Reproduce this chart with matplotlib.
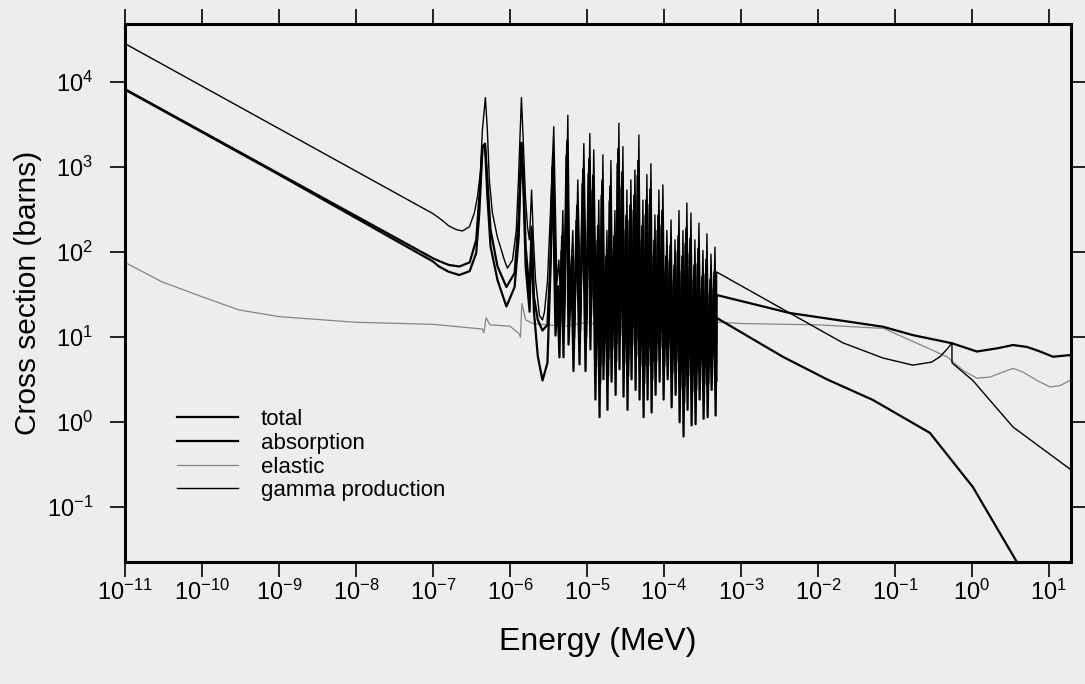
"""Neutron cross sections vs energy: total, absorption, elastic and gamma production."""
import matplotlib.pyplot as plt
from matplotlib.ticker import FixedLocator, NullLocator, LogFormatterSciNotation

plt.rcParams["font.family"] = ["Liberation Sans", "DejaVu Sans"]
plt.rcParams["mathtext.fontset"] = "custom"
plt.rcParams["mathtext.rm"] = "Liberation Sans"
plt.rcParams["mathtext.it"] = "Liberation Sans:italic"
plt.rcParams["mathtext.bf"] = "Liberation Sans:bold"
plt.rcParams["axes.unicode_minus"] = False

BG = "#ededed"

x_ticks = [1e-11, 1e-10, 1e-9, 1e-8, 1e-7, 1e-6, 1e-5, 1e-4, 1e-3, 1e-2, 1e-1, 1e0, 1e1]
y_ticks = [1e-1, 1e0, 1e1, 1e2, 1e3, 1e4]

# ---- thermal / first resonances (energies in MeV, cross sections in barns)
gamma_lo_E = [1e-11, 1e-9, 1e-7, 1.3e-7, 1.6e-7, 2.0e-7, 2.41e-7, 2.97e-7, 3.45e-7, 3.78e-7, 4.13e-7,
              4.39e-7, 4.80e-7, 5.09e-7, 5.40e-7, 5.92e-7, 6.87e-7, 8.47e-7, 9.27e-7,
              1.08e-6, 1.21e-6, 1.29e-6, 1.41e-6, 1.50e-6, 1.59e-6, 1.69e-6, 1.79e-6,
              1.85e-6, 1.91e-6, 2.02e-6, 2.15e-6, 2.42e-6, 2.65e-6, 2.81e-6, 3.07e-6, 3.36e-6]
gamma_lo = [2.85e4, 2850, 285, 240, 205, 185, 178, 199, 290, 448, 857,
            2750, 6600, 2750, 710, 290, 151, 81, 65,
            81, 183, 710, 6600, 1730, 448, 199, 140,
            270, 540, 140, 47, 18, 16, 20, 45, 300]

tot_lo_E = [1e-11, 1e-9, 1e-7, 1.2e-7, 1.6e-7, 2.2e-7, 3.0e-7, 3.65e-7, 4.0e-7, 4.4e-7, 4.75e-7,
            5.1e-7, 5.6e-7, 6.9e-7, 9.0e-7, 1.15e-6, 1.3e-6, 1.41e-6, 1.5e-6, 1.6e-6,
            1.8e-6, 1.91e-6, 2.05e-6, 2.3e-6, 2.65e-6, 3.07e-6, 3.36e-6]
total_lo = [8.3e3, 840, 85, 79, 71, 68, 76, 140, 448, 1750, 1900,
            710, 183, 68, 39, 57, 250, 1950, 710, 117,
            33, 200, 30, 16, 12, 14, 80]
absorption_lo = [8.2e3, 820, 78, 68, 59, 54, 60, 98, 290, 1730, 1800,
                 448, 117, 47, 23, 39, 150, 1900, 540, 68,
                 20, 150, 20, 6, 3.1, 5, 60]

# ---- dense resonance region (alternating peaks / valleys)
res_E = [3.57e-6, 3.91e-6, 4.15e-6, 4.40e-6, 4.67e-6, 4.96e-6, 5.43e-6, 5.77e-6, 6.31e-6, 6.69e-6,
         7.32e-6, 8.02e-6, 8.77e-6, 9.59e-6, 1.05e-5, 1.11e-5, 1.18e-5, 1.29e-5, 1.37e-5, 1.46e-5,
         1.55e-5, 1.64e-5, 1.75e-5, 1.85e-5, 1.97e-5, 2.09e-5, 2.22e-5, 2.36e-5, 2.50e-5, 2.65e-5,
         2.82e-5, 2.99e-5, 3.18e-5, 3.37e-5, 3.58e-5, 3.80e-5, 4.04e-5, 4.29e-5, 4.55e-5, 4.83e-5,
         5.13e-5, 5.45e-5, 5.78e-5, 6.14e-5, 6.52e-5, 6.92e-5, 7.35e-5, 7.80e-5, 8.28e-5, 8.79e-5,
         9.33e-5, 9.91e-5, 1.05e-4, 1.12e-4, 1.19e-4, 1.26e-4, 1.34e-4, 1.42e-4, 1.51e-4, 1.60e-4,
         1.70e-4, 1.80e-4, 1.91e-4, 2.03e-4, 2.16e-4, 2.29e-4, 2.43e-4, 2.58e-4, 2.74e-4, 2.91e-4,
         3.09e-4, 3.28e-4, 3.48e-4, 3.70e-4, 3.93e-4, 4.17e-4, 4.43e-4, 4.70e-4]
res_E_total = [3.64e-6, 3.99e-6, 4.23e-6, 4.49e-6, 4.76e-6, 5.06e-6, 5.54e-6, 5.89e-6, 6.44e-6, 6.82e-6,
               7.47e-6, 8.18e-6, 8.95e-6, 9.78e-6, 1.071e-5, 1.132e-5, 1.204e-5, 1.316e-5, 1.397e-5, 1.489e-5,
               1.581e-5, 1.673e-5, 1.785e-5, 1.887e-5, 2.009e-5, 2.132e-5, 2.264e-5, 2.407e-5, 2.55e-5, 2.703e-5,
               2.876e-5, 3.050e-5, 3.244e-5, 3.437e-5, 3.652e-5, 3.876e-5, 4.121e-5, 4.376e-5, 4.641e-5, 4.927e-5,
               5.233e-5, 5.559e-5, 5.896e-5, 6.263e-5, 6.650e-5, 7.058e-5, 7.497e-5, 7.956e-5, 8.446e-5, 8.966e-5,
               9.517e-5, 1.011e-4, 1.071e-4, 1.142e-4, 1.214e-4, 1.285e-4, 1.367e-4, 1.448e-4, 1.540e-4, 1.632e-4,
               1.734e-4, 1.836e-4, 1.948e-4, 2.071e-4, 2.203e-4, 2.336e-4, 2.479e-4, 2.632e-4, 2.795e-4, 2.968e-4,
               3.152e-4, 3.346e-4, 3.550e-4, 3.774e-4, 4.009e-4, 4.253e-4, 4.519e-4, 4.78e-4]
res_E_gamma = [3.71e-6, 4.07e-6, 4.32e-6, 4.58e-6, 4.86e-6, 5.16e-6, 5.65e-6, 6.00e-6, 6.56e-6, 6.96e-6,
               7.61e-6, 8.34e-6, 9.12e-6, 9.97e-6, 1.092e-5, 1.154e-5, 1.227e-5, 1.342e-5, 1.425e-5, 1.518e-5,
               1.612e-5, 1.706e-5, 1.820e-5, 1.924e-5, 2.049e-5, 2.174e-5, 2.309e-5, 2.454e-5, 2.60e-5, 2.756e-5,
               2.933e-5, 3.110e-5, 3.307e-5, 3.505e-5, 3.723e-5, 3.952e-5, 4.202e-5, 4.462e-5, 4.732e-5, 5.023e-5,
               5.335e-5, 5.668e-5, 6.011e-5, 6.386e-5, 6.781e-5, 7.197e-5, 7.644e-5, 8.112e-5, 8.611e-5, 9.142e-5,
               9.703e-5, 1.031e-4, 1.092e-4, 1.165e-4, 1.238e-4, 1.310e-4, 1.394e-4, 1.477e-4, 1.570e-4, 1.664e-4,
               1.768e-4, 1.872e-4, 1.986e-4, 2.111e-4, 2.246e-4, 2.382e-4, 2.527e-4, 2.683e-4, 2.850e-4, 3.026e-4,
               3.214e-4, 3.411e-4, 3.619e-4, 3.848e-4, 4.087e-4, 4.337e-4, 4.607e-4, 4.82e-4]
gamma_res = [3000, 42, 81, 23, 310, 23, 4100, 33, 180, 16, 710, 19, 1900, 16, 2500, 29, 1600, 7.4,
             410, 4.6, 1400, 13, 180, 5.6, 1200, 12, 310, 8.4, 3300, 17, 1750, 8, 540, 5.6, 710, 13,
             930, 9.6, 2400, 7.4, 410, 4.6, 820, 7.4, 1100, 5.2, 275, 8.4, 540, 12, 620, 7.4, 180, 13,
             240, 6, 140, 8.4, 310, 4, 180, 2.7, 380, 5.6, 290, 3.7, 140, 3.8, 220, 7.4, 105, 4.4,
             165, 4.6, 95, 9.6, 115, 4.8]
total_res = [1500, 26, 40, 14.5, 155, 14.5, 2050, 20, 90, 10, 355, 12, 950, 10, 1250, 18, 800, 4.6,
             205, 2.9, 700, 8, 90, 3.5, 600, 7.5, 155, 5.2, 1650, 10.5, 875, 5, 270, 3.5, 355, 8,
             465, 6, 1200, 4.6, 205, 2.9, 410, 4.6, 550, 3.2, 138, 5.2, 270, 7.5, 310, 4.6, 90, 8,
             120, 3.8, 70, 5.2, 155, 2.5, 90, 1.7, 190, 3.5, 145, 2.3, 70, 2.4, 110, 4.6, 52, 2.8,
             82, 2.9, 48, 6, 58, 3]
absorption_res = [1000, 10.5, 27, 5.8, 103, 5.8, 1370, 8.2, 60, 4.0, 237, 4.8, 633, 4.0, 833, 7.2,
                  533, 1.85, 137, 1.15, 467, 3.2, 60, 1.4, 400, 3.0, 103, 2.1, 1100, 4.2, 583, 2.0,
                  180, 1.4, 237, 3.2, 310, 2.4, 800, 1.85, 137, 1.15, 273, 1.85, 367, 1.3, 92, 2.1,
                  180, 3.0, 207, 1.85, 60, 3.2, 80, 1.5, 47, 2.1, 103, 1.0, 60, 0.68, 127, 1.4,
                  97, 0.92, 47, 0.95, 73, 1.85, 35, 1.1, 55, 1.15, 32, 2.4, 38, 1.2]

# ---- above the resonance region
gamma_hi_E = [4.84e-4, 4.30e-3, 2.11e-2, 0.070, 0.171, 0.30, 0.385, 0.48, 0.551, 0.552,
              1.03, 3.42, 20]
gamma_hi = [58.6, 19.3, 8.6, 5.7, 4.7, 5.1, 5.9, 7.3, 8.6, 5.0, 3.1, 0.88, 0.27]

total_hi_E = [4.84e-4, 4.30e-3, 0.070, 0.171, 0.551, 1.16, 2.12, 3.42, 5.2, 7.7, 11.3, 20]
total_hi = [31.4, 19.3, 13.3, 10.6, 8.5, 6.8, 7.4, 8.1, 7.7, 6.8, 5.9, 6.2]

absorption_hi_E = [4.84e-4, 3.5e-3, 1.31e-2, 5.18e-2, 0.285, 1.03, 3.86, 6.0]
absorption_hi = [16.9, 5.9, 3.2, 1.83, 0.75, 0.173, 0.0225, 0.012]

elastic_E = [1e-11, 3e-11, 1e-10, 3e-10, 1e-9, 1e-8, 1e-7, 4.4e-7, 4.6e-7, 4.9e-7, 5.5e-7,
             1.0e-6, 1.32e-6, 1.37e-6, 1.43e-6, 1.6e-6, 2.0e-6, 3.0e-6, 5e-6, 1e-5, 2e-5,
             5e-5, 1e-4, 2e-4, 4.84e-4, 1e-3, 1e-2, 0.072, 0.474, 0.766, 1.16, 1.72, 2.54,
             3.42, 4.61, 7.0, 10.4, 14.0, 20]
elastic = [76, 45, 30, 21, 17.5, 15, 14.2, 12.5, 11.3, 17, 14,
           13.5, 11, 10, 25, 16, 14.5, 14, 13.5, 15, 13,
           14.5, 13.5, 14.5, 15.1, 14.5, 14.0, 12.7, 5.9, 4.1, 3.3, 3.4, 3.9,
           4.3, 3.9, 3.1, 2.6, 2.7, 3.2]

fig = plt.figure(figsize=(10.85, 6.84), dpi=100)
fig.patch.set_facecolor(BG)
ax = fig.add_axes([0.1152, 0.1784, 0.8719, 0.7865])
ax.set_facecolor(BG)

l_el, = ax.plot(elastic_E, elastic, color="#858585", lw=0.9, zorder=2)
l_gam, = ax.plot(gamma_lo_E + res_E_gamma + gamma_hi_E, gamma_lo + gamma_res + gamma_hi,
                 color="black", lw=1.0, zorder=3)
l_abs, = ax.plot(tot_lo_E + res_E + absorption_hi_E, absorption_lo + absorption_res + absorption_hi,
                 color="black", lw=1.6, zorder=4)
l_tot, = ax.plot(tot_lo_E + res_E_total + total_hi_E, total_lo + total_res + total_hi,
                 color="black", lw=1.6, zorder=5)

ax.set_xscale("log")
ax.set_yscale("log")
ax.set_xlim(1e-11, 19.4)
ax.set_ylim(0.0227, 4.85e4)

ax.xaxis.set_major_locator(FixedLocator(x_ticks))
ax.yaxis.set_major_locator(FixedLocator(y_ticks))
for axis in (ax.xaxis, ax.yaxis):
    axis.set_major_formatter(LogFormatterSciNotation())
    axis.set_minor_locator(NullLocator())

ax.tick_params(which="major", direction="out", length=11, width=1.2,
               top=True, right=True, labelsize=17)
ax.tick_params(axis="x", pad=1.5)
ax.tick_params(axis="y", pad=12)
for sp in ax.spines.values():
    sp.set_linewidth(2.2)

ax.set_xlabel("Energy (MeV)", fontsize=23, labelpad=16)
ax.set_ylabel("Cross section (barns)", fontsize=21.5, labelpad=3)

ax.legend([l_tot, l_abs, l_el, l_gam], ["total", "absorption", "elastic", "gamma production"],
          loc="upper left", bbox_to_anchor=(0.055, 0.284), frameon=False, fontsize=16,
          handlelength=2.75, handletextpad=1.03, labelspacing=0.12,
          borderpad=0, borderaxespad=0)

fig.savefig("out.png", dpi=100, facecolor=fig.get_facecolor())
plt.close(fig)
